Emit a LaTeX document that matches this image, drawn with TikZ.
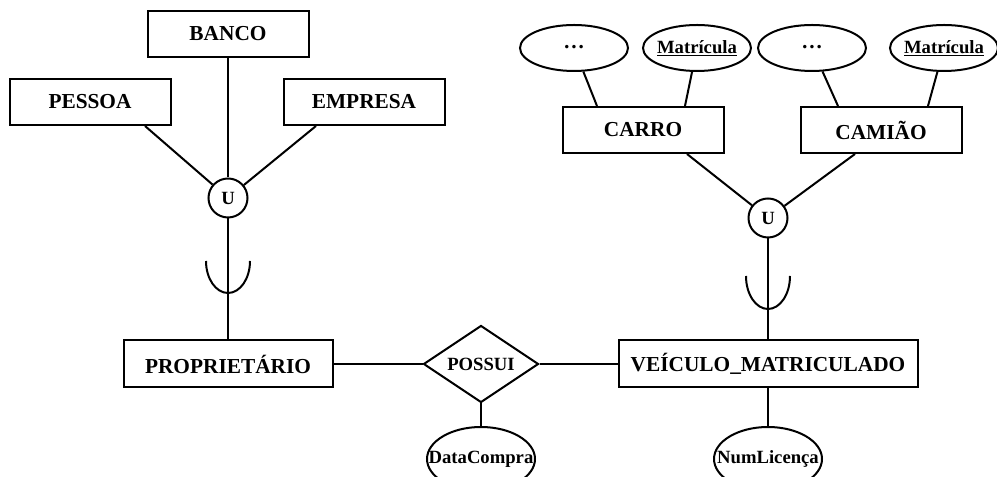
\documentclass[tikz,border=0pt]{standalone}
\usepackage{fontspec}
\setmainfont{Liberation Serif}
\usetikzlibrary{shapes.geometric}

\begin{document}
\begin{tikzpicture}[x=0.75pt,y=0.75pt,line width=1.5pt,
  entity/.style={draw,rectangle,inner sep=0pt,minimum width=120.75pt,minimum height=34.5pt,font=\fontsize{16}{19}\selectfont\bfseries},
  attrib/.style={draw,ellipse,inner sep=0pt,minimum width=81pt,minimum height=34.5pt,font=\fontsize{14}{17}\selectfont\bfseries},
  union/.style={draw,circle,inner sep=0pt,minimum size=29.25pt,font=\fontsize{14}{17}\selectfont\bfseries},
  relation/.style={draw,diamond,inner sep=0pt,minimum width=86.25pt,minimum height=57.75pt,font=\fontsize{14}{17}\selectfont\bfseries}]
\useasboundingbox (0,0) rectangle (997,477);

\node[entity] (banco) at (228,443) {BANCO};
\node[entity] (pessoa) at (90,375) {PESSOA};
\node[entity] (empresa) at (364,375) {EMPRESA};
\node[union] (uniaoP) at (228,279) {U};
\node[entity,minimum width=156.75pt,minimum height=35.25pt] (prop) at (228,113) {PROPRIETÁRIO};
\node[relation] (possui) at (481,113) {\makebox[0pt]{POSSUI}};
\node[entity,minimum width=224.25pt,minimum height=35.25pt] (veiculo) at (768,113) {VEÍCULO\_MATRICULADO};
\node[attrib,minimum height=48pt] (data) at (481,18) {\makebox[0pt]{DataCompra}};
\node[attrib,minimum height=48pt] (numlic) at (768,18) {\makebox[0pt]{NumLicença}};
\node[union] (uniaoV) at (768,259) {U};
\node[entity] (carro) at (643,347) {CARRO};
\node[entity] (camiao) at (881,347) {CAMIÃO};
\node[attrib,font=\fontsize{16}{19}\selectfont\bfseries] (outrosC) at (574,429) {\makebox[0pt]{\raisebox{1.5pt}{…}}};
\node[attrib] (matC) at (697,429) {\makebox[0pt]{\underline{Matrícula}}};
\node[attrib,font=\fontsize{16}{19}\selectfont\bfseries] (outrosK) at (812,429) {\makebox[0pt]{\raisebox{1.5pt}{…}}};
\node[attrib] (matK) at (944,429) {\makebox[0pt]{\underline{Matrícula}}};

% copos da restricao
\coordinate (copoP) at (228,216);
\coordinate (copoV) at (768,201);
\draw (copoP) ++(-22,0) arc[start angle=180,end angle=360,x radius=16.5pt,y radius=24pt];
\draw (copoV) ++(-22,0) arc[start angle=180,end angle=360,x radius=16.5pt,y radius=24.75pt];

\draw (banco) -- (uniaoP);
\draw ([xshift=41.25pt]pessoa.south) -- (uniaoP);
\draw ([xshift=-36pt]empresa.south) -- (uniaoP);
\draw (uniaoP) -- (prop);
\draw (prop) -- (possui) -- (veiculo);
\draw (possui) -- (data);
\draw (veiculo) -- (numlic);
\draw ([xshift=33pt]carro.south) -- (uniaoV);
\draw ([xshift=-19.5pt]camiao.south) -- (uniaoV);
\draw (uniaoV) -- (veiculo);
\draw (outrosC) -- ([xshift=-34.5pt]carro.north);
\draw (matC) -- ([xshift=31.5pt]carro.north);
\draw (outrosK) -- ([xshift=-32.25pt]camiao.north);
\draw (matK) -- ([xshift=35.25pt]camiao.north);
\end{tikzpicture}
\end{document}
